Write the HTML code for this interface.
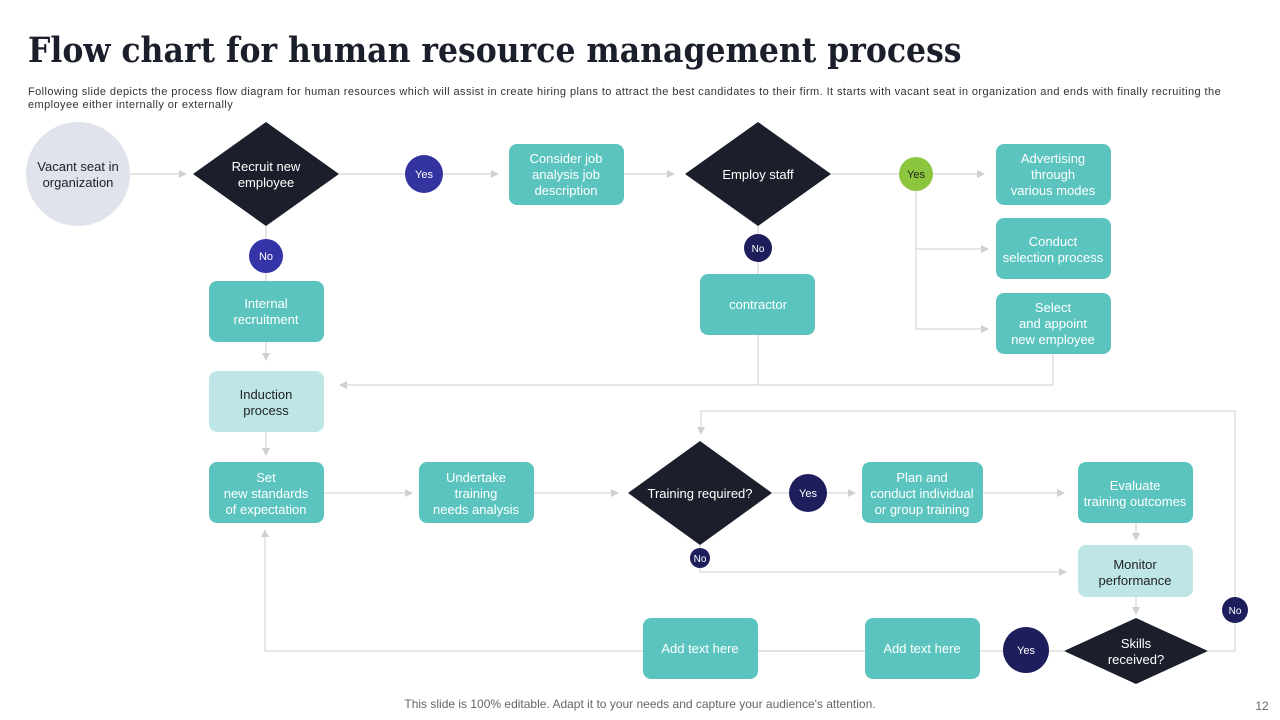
<!DOCTYPE html>
<html><head><meta charset="utf-8"><style>
body{margin:0;width:1280px;height:720px;background:#fff;overflow:hidden;font-family:"Liberation Sans",sans-serif}
h1{position:absolute;left:28px;top:30px;margin:0;font-family:"DejaVu Serif Condensed","DejaVu Serif",serif;font-stretch:condensed;font-weight:bold;font-size:35px;color:#1b1f2b;white-space:nowrap}
.sub{position:absolute;left:28px;top:86px;font-size:11px;line-height:13px;color:#333;letter-spacing:0.42px;white-space:nowrap}
svg{position:absolute;left:0;top:0}
text{font-family:"Liberation Sans",sans-serif;font-size:13px;text-anchor:middle}
</style></head><body>
<h1>Flow chart for human resource management process</h1>
<div class="sub">Following slide depicts the process flow diagram for human resources which will assist in  create hiring plans to attract the best candidates to their firm. It starts with vacant seat in organization and ends with finally recruiting the<br>employee either internally or externally</div>
<svg width="1280" height="720" viewBox="0 0 1280 720">
<defs><marker id="a" markerWidth="8" markerHeight="8" refX="7" refY="4" orient="auto" markerUnits="userSpaceOnUse"><path d="M0,0 L8,4 L0,8z" fill="#d0d0d0"/></marker></defs>
<g stroke="#d6d6d6" stroke-width="1.2" fill="none">
<line x1="130" y1="174" x2="186" y2="174" marker-end="url(#a)"/>
<line x1="339" y1="174" x2="498" y2="174" marker-end="url(#a)"/>
<line x1="624" y1="174" x2="674" y2="174" marker-end="url(#a)"/>
<line x1="831" y1="174" x2="984" y2="174" marker-end="url(#a)"/>
<polyline points="916,191 916,329 988,329" marker-end="url(#a)"/>
<line x1="916" y1="249" x2="988" y2="249" marker-end="url(#a)"/>
<line x1="266" y1="226" x2="266" y2="281"/>
<line x1="266" y1="342" x2="266" y2="360" marker-end="url(#a)"/>
<line x1="758" y1="226" x2="758" y2="274"/>
<line x1="758" y1="335" x2="758" y2="385"/>
<polyline points="1053,354 1053,385 340,385" marker-end="url(#a)"/>
<line x1="266" y1="432" x2="266" y2="455" marker-end="url(#a)"/>
<line x1="324" y1="493" x2="412" y2="493" marker-end="url(#a)"/>
<line x1="534" y1="493" x2="618" y2="493" marker-end="url(#a)"/>
<line x1="772" y1="493" x2="855" y2="493" marker-end="url(#a)"/>
<line x1="983" y1="493" x2="1064" y2="493" marker-end="url(#a)"/>
<line x1="1136" y1="523" x2="1136" y2="540" marker-end="url(#a)"/>
<line x1="1136" y1="597" x2="1136" y2="614" marker-end="url(#a)"/>
<polyline points="700,545 700,572 1066,572" marker-end="url(#a)"/>
<polyline points="1208,651 1235,651 1235,411 701,411 701,434" marker-end="url(#a)"/>
<polyline points="1064,651 643,651"/>
<line x1="758" y1="651" x2="865" y2="651"/>
<polyline points="643,651 265,651 265,530" marker-end="url(#a)"/>
</g>
<ellipse cx="78" cy="174" rx="52" ry="52" fill="#e1e3ec"/>
<text x="78" y="171" fill="#222">Vacant seat in</text><text x="78" y="187" fill="#222">organization</text>
<g fill="#1b1f2b">
<polygon points="193,174 266,122 339,174 266,226"/>
<polygon points="685,174 758,122 831,174 758,226"/>
<polygon points="628,493 700,441 772,493 700,545"/>
<polygon points="1064,651 1136,618 1208,651 1136,684"/>
</g>
<text x="266" y="171" fill="#fff">Recruit new</text><text x="266" y="187" fill="#fff">employee</text>
<text x="758" y="179" fill="#fff">Employ staff</text>
<text x="700" y="498" fill="#fff">Training  required?</text>
<text x="1136" y="648" fill="#fff">Skills</text><text x="1136" y="664" fill="#fff">received?</text>
<g fill="#5bc4bf">
<rect x="509" y="144" width="115" height="61" rx="8"/>
<rect x="996" y="144" width="115" height="61" rx="8"/>
<rect x="996" y="218" width="115" height="61" rx="8"/>
<rect x="996" y="293" width="115" height="61" rx="8"/>
<rect x="209" y="281" width="115" height="61" rx="8"/>
<rect x="700" y="274" width="115" height="61" rx="8"/>
<rect x="209" y="462" width="115" height="61" rx="8"/>
<rect x="419" y="462" width="115" height="61" rx="8"/>
<rect x="862" y="462" width="121" height="61" rx="8"/>
<rect x="1078" y="462" width="115" height="61" rx="8"/>
<rect x="865" y="618" width="115" height="61" rx="8"/>
<rect x="643" y="618" width="115" height="61" rx="8"/>
</g>
<g fill="#bfe6e6">
<rect x="209" y="371" width="115" height="61" rx="8"/>
<rect x="1078" y="545" width="115" height="52" rx="8"/>
</g>
<g fill="#fff">
<text x="566" y="163">Consider job</text><text x="566" y="179">analysis job</text><text x="566" y="195">description</text>
<text x="1053" y="163">Advertising</text><text x="1053" y="179">through</text><text x="1053" y="195">various modes</text>
<text x="1053" y="246">Conduct</text><text x="1053" y="262">selection process</text>
<text x="1053" y="312">Select</text><text x="1053" y="328">and appoint</text><text x="1053" y="344">new employee</text>
<text x="266" y="308">Internal</text><text x="266" y="324">recruitment</text>
<text x="758" y="309">contractor</text>
<text x="266" y="482">Set</text><text x="266" y="498">new standards</text><text x="266" y="514">of expectation</text>
<text x="476" y="482">Undertake</text><text x="476" y="498">training</text><text x="476" y="514">needs analysis</text>
<text x="922" y="482">Plan and</text><text x="922" y="498">conduct individual</text><text x="922" y="514">or group training</text>
<text x="1135" y="490">Evaluate</text><text x="1135" y="506">training outcomes</text>
<text x="922" y="653">Add text here</text>
<text x="700" y="653">Add text here</text>
</g>
<g fill="#222"><text x="266" y="399">Induction</text><text x="266" y="415">process</text>
<text x="1135" y="569">Monitor</text><text x="1135" y="585">performance</text></g>
<circle cx="424" cy="174" r="19" fill="#3434a0"/><text x="424" y="178" fill="#fff" style="font-size:11px">Yes</text>
<circle cx="916" cy="174" r="17" fill="#8cc63f"/><text x="916" y="178" fill="#222" style="font-size:11px">Yes</text>
<circle cx="266" cy="256" r="17" fill="#3434a8"/><text x="266" y="260" fill="#fff" style="font-size:11px">No</text>
<circle cx="758" cy="248" r="14" fill="#1e1e5c"/><text x="758" y="252" fill="#fff" style="font-size:10px">No</text>
<circle cx="808" cy="493" r="19" fill="#1e1e5c"/><text x="808" y="497" fill="#fff" style="font-size:11px">Yes</text>
<circle cx="700" cy="558" r="10" fill="#1e1e5c"/><text x="700" y="562" fill="#fff" style="font-size:10px">No</text>
<circle cx="1235" cy="610" r="13" fill="#1e1e5c"/><text x="1235" y="614" fill="#fff" style="font-size:10px">No</text>
<circle cx="1026" cy="650" r="23" fill="#1e1e5c"/><text x="1026" y="654" fill="#fff" style="font-size:11px">Yes</text>
<text x="640" y="708" fill="#666" style="font-size:12px">This slide is 100% editable. Adapt it to your needs and capture your audience's attention.</text>
<text x="1262" y="710" fill="#666" style="font-size:12px">12</text>
</svg>
</body></html>
